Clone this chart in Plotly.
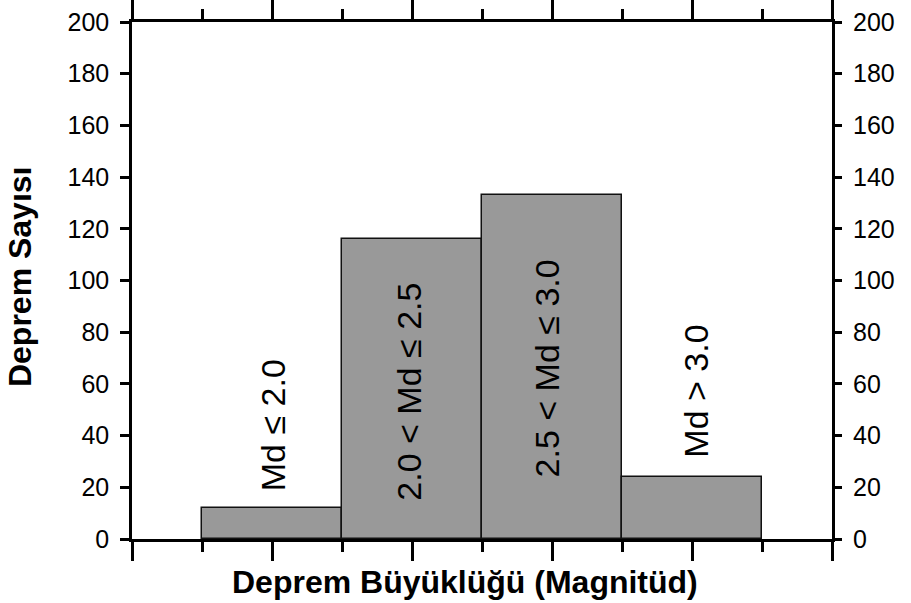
import plotly.graph_objects as go

# ---- data ----
bin_centers = [2, 4, 6, 8]
counts = [12, 116, 133, 24]
bin_labels = ["Md ≤ 2.0", "2.0 < Md ≤ 2.5", "2.5 < Md ≤ 3.0", "Md > 3.0"]
y_ticks = [0, 20, 40, 60, 80, 100, 120, 140, 160, 180, 200]

x_title = "Deprem Büyüklüğü (Magnitüd)"
y_title = "Deprem Sayısı"

# label placement (layout, not data)
label_y = [44, 57, 66, 57]
label_xshift = [1, -3, -5, 4]

FONT = "Liberation Sans, Arial, sans-serif"

fig = go.Figure()
fig.add_trace(go.Bar(
    x=bin_centers, y=counts, width=2,
    marker=dict(color="#999999", line=dict(color="#111111", width=1.5)),
    showlegend=False, hoverinfo="skip",
))
# invisible trace to anchor right axis
fig.add_trace(go.Scatter(x=[bin_centers[0]], y=[0], yaxis="y2", mode="markers",
                         marker=dict(opacity=0), showlegend=False, hoverinfo="skip"))

for xc, lab, ly, xs in zip(bin_centers, bin_labels, label_y, label_xshift):
    fig.add_annotation(x=xc, y=ly, xref="x", yref="y", text=lab, textangle=-90,
                       showarrow=False, xshift=xs,
                       font=dict(family=FONT, size=34, color="black"))

fig.add_annotation(x=(465 - 132) / 700, y=-0.083, xref="paper", yref="paper",
                   text=f"<b>{x_title}</b>",
                   showarrow=False, xanchor="center", yanchor="middle",
                   font=dict(family=FONT, size=32, color="black"))
fig.add_annotation(x=-0.159, y=0.508, xref="paper", yref="paper", text=f"<b>{y_title}</b>",
                   showarrow=False, textangle=-90, xanchor="center", yanchor="middle",
                   font=dict(family=FONT, size=32, color="black"))

axis_common = dict(showgrid=False, zeroline=False, linecolor="black", linewidth=2.5,
                   automargin=False)

fig.update_layout(
    width=911, height=603,
    margin=dict(l=132, r=79, t=22, b=64),
    paper_bgcolor="white", plot_bgcolor="white",
    bargap=0,
    xaxis=dict(range=[0, 10], tickmode="array", tickvals=[0, 2, 4, 6, 8, 10],
               ticks="outside", ticklen=19, tickwidth=2.5, tickcolor="black",
               showticklabels=False, showline=True, mirror="ticks",
               minor=dict(tickmode="array", tickvals=[1, 3, 5, 7, 9], ticks="outside",
                          ticklen=10, tickwidth=2.5, tickcolor="black"),
               **axis_common),
    yaxis=dict(range=[0, 200], tickmode="array", tickvals=y_ticks,
               ticks="outside", ticklen=9, tickwidth=2.5, tickcolor="black",
               showline=True, mirror=True, ticklabelstandoff=6,
               ticklabeloverflow="allow",
               tickfont=dict(family=FONT, size=25, color="black"),
               **axis_common),
    yaxis2=dict(range=[0, 200], tickmode="array", tickvals=y_ticks, overlaying="y",
                side="right", ticks="outside", ticklen=9, tickwidth=2.5, tickcolor="black",
                showline=False, ticklabelstandoff=6, automargin=False,
                ticklabeloverflow="allow",
                tickfont=dict(family=FONT, size=25, color="black"),
                showgrid=False, zeroline=False),
)

# remove the default page margin so the figure fills the 911x603 window exactly
fig.write_html("out.html",
               config={"displayModeBar": False},
               post_script="document.body.style.margin='0px';document.body.style.overflow='hidden';")
